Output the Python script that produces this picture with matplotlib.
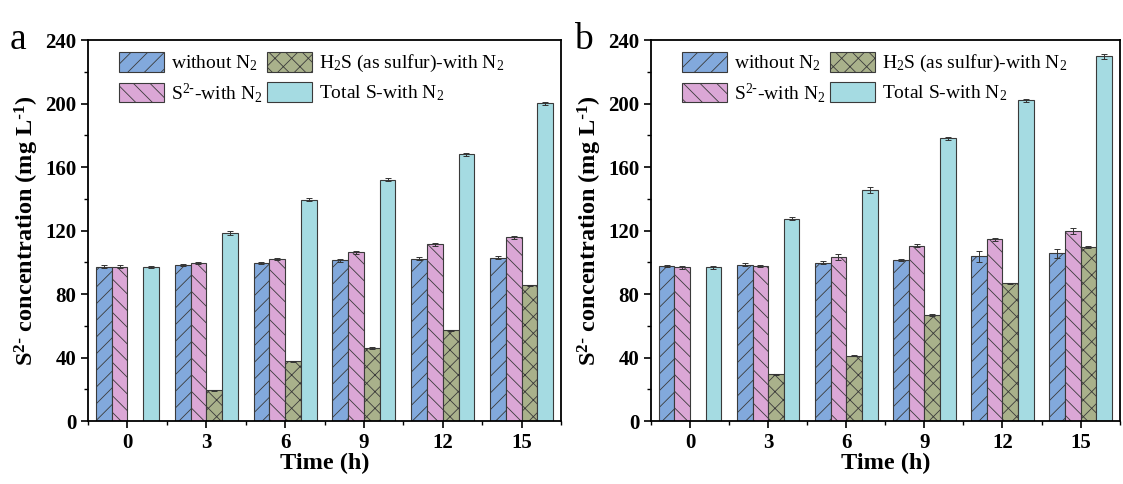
import numpy as np
import matplotlib
matplotlib.use('Agg')
import matplotlib.pyplot as plt
from matplotlib.ticker import MultipleLocator

plt.rcParams['font.family'] = 'Liberation Serif'
plt.rcParams['mathtext.default'] = 'regular'
plt.rcParams['hatch.linewidth'] = 0.6

times = [0, 3, 6, 9, 12, 15]
labels = ['without N$_2$', r'S$^{2\text{-}}$-with N$_2$',
          'H$_2$S (as sulfur)-with N$_2$', 'Total S-with N$_2$']

# panel a
a_without = [97.3, 98.4, 99.6, 101.3, 102.3, 103.0]
a_s2 = [97.3, 99.6, 102.1, 106.3, 111.4, 115.8]
a_h2s = [0, 19.4, 37.7, 46.0, 57.1, 85.5]
a_total = [97.1, 118.6, 139.6, 152.2, 168.2, 200.3]
a_without_err = [0.8, 0.8, 0.8, 0.8, 0.8, 0.8]
a_s2_err = [0.8, 0.8, 0.8, 0.8, 0.8, 0.8]
a_h2s_err = [0, 0.4, 0.4, 0.4, 0.4, 0.4]
a_total_err = [0.8, 1.2, 1.2, 1.0, 1.0, 1.0]

# panel b
b_without = [97.8, 98.6, 99.8, 101.5, 103.8, 105.8]
b_s2 = [96.8, 97.8, 103.6, 110.5, 114.5, 119.8]
b_h2s = [0, 29.5, 41.2, 66.8, 86.8, 109.6]
b_total = [96.8, 127.5, 145.6, 178.2, 202.0, 229.8]
b_without_err = [0.8, 0.8, 0.8, 0.8, 3.5, 2.8]
b_s2_err = [0.8, 0.8, 1.8, 0.8, 0.8, 1.8]
b_h2s_err = [0, 0.4, 0.4, 0.4, 0.4, 0.4]
b_total_err = [0.8, 1.0, 1.8, 1.0, 1.0, 1.8]

colors = ['#82a9dc', '#dba7d6', '#a9b18b', '#a5dbe2']
hatches = ['//', '\\\\', 'xx', '']


def draw_panel(ax, series, errors, letter):
    x = np.array(times, dtype=float)
    w = 0.6
    offsets = [-1.5, -0.5, 0.5, 1.5]
    handles = []
    for vals, errs, c, h, off, lab in zip(series, errors, colors, hatches, offsets, labels):
        vals = np.array(vals, dtype=float)
        mask = vals > 0
        b = ax.bar(x[mask] + off * w, vals[mask], width=w, color=c, hatch=h,
                   edgecolor='#3a3a3a', linewidth=0.8, label=lab,
                   yerr=np.array(errs)[mask], capsize=2.5,
                   error_kw=dict(ecolor='#333333', elinewidth=0.7, capthick=0.7))
        handles.append(b)
    ax.set_xlim(-1.5, 16.5)
    ax.set_ylim(0, 240)
    ax.set_xticks(times)
    ax.xaxis.set_minor_locator(MultipleLocator(1.5))
    ax.yaxis.set_major_locator(MultipleLocator(40))
    ax.yaxis.set_minor_locator(MultipleLocator(20))
    ax.tick_params(which='major', direction='out', length=5, width=1.2, labelsize=15)
    ax.tick_params(which='minor', direction='out', length=3, width=1.0)
    for lbl in ax.get_xticklabels() + ax.get_yticklabels():
        lbl.set_fontweight('bold')
    for s in ax.spines.values():
        s.set_linewidth(1.3)
    ax.set_xlabel('Time (h)', fontsize=17.5, fontweight='bold', labelpad=0)
    ax.set_ylabel(r'S$^{2\text{-}}$ concentration (mg L$^{\text{-}1}$)', fontsize=17.5,
                  fontweight='bold', labelpad=3)
    ax.legend(handles, labels, ncol=2, loc='upper left', frameon=False,
              fontsize=14, handlelength=2.3, handleheight=1.2,
              columnspacing=0.25, handletextpad=0.35, labelspacing=0.4,
              borderaxespad=0.0, bbox_to_anchor=(0.05, 0.99))
    ax.text(-0.165, 1.0, letter, transform=ax.transAxes, fontsize=27,
            va='center', ha='left')


fig = plt.figure(figsize=(11.23, 4.84), dpi=100)
ax1 = fig.add_axes([0.0784, 0.130, 0.4212, 0.787])
ax2 = fig.add_axes([0.5797, 0.130, 0.4173, 0.787])

draw_panel(ax1, [a_without, a_s2, a_h2s, a_total],
           [a_without_err, a_s2_err, a_h2s_err, a_total_err], 'a')
draw_panel(ax2, [b_without, b_s2, b_h2s, b_total],
           [b_without_err, b_s2_err, b_h2s_err, b_total_err], 'b')

fig.savefig('out.png', dpi=100)
plt.close(fig)
